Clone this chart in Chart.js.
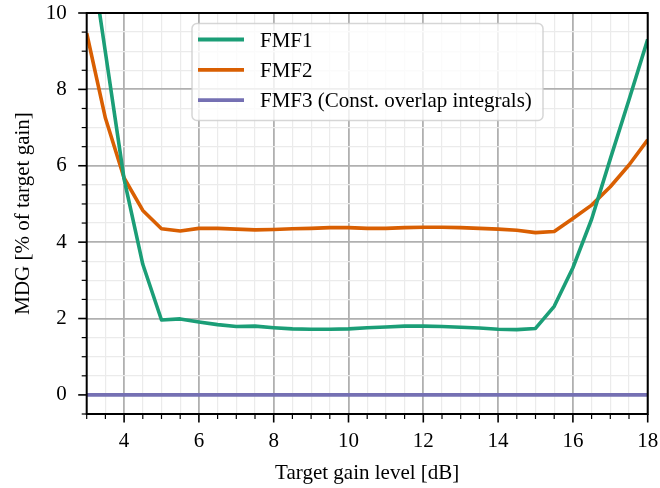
<!DOCTYPE html>
<html lang="en">
<head>
  <meta charset="UTF-8" />
  <title>MDG vs target gain</title>
  <script src="https://cdn.jsdelivr.net/npm/chart.js"></script>
  <style>
    html, body { margin: 0; padding: 0; background: #fff; }
    #wrap { width: 660px; height: 488px; }
  </style>
</head>
<body>
  <div id="wrap"><canvas id="mdgChart" width="660" height="488"></canvas></div>

  <script>
    // target gain levels [dB]
    const gainLevels = [3, 3.5, 4, 4.5, 5, 5.5, 6, 6.5, 7, 7.5, 8, 8.5, 9, 9.5, 10, 10.5,
                        11, 11.5, 12, 12.5, 13, 13.5, 14, 14.5, 15, 15.5, 16, 16.5, 17, 17.5, 18];
    // MDG [% of target gain]
    const fmf1 = [12.3, 8.97, 5.65, 3.42, 1.96, 1.99, 1.91, 1.84, 1.79, 1.80, 1.76, 1.73, 1.72, 1.72, 1.73, 1.76,
                  1.78, 1.80, 1.80, 1.79, 1.77, 1.75, 1.72, 1.71, 1.74, 2.32, 3.33, 4.60, 6.18, 7.73, 9.31];
    const fmf2 = [9.47, 7.25, 5.68, 4.83, 4.35, 4.29, 4.36, 4.36, 4.34, 4.32, 4.33, 4.35, 4.36, 4.38, 4.38, 4.36,
                  4.36, 4.38, 4.39, 4.39, 4.38, 4.36, 4.34, 4.31, 4.25, 4.28, 4.62, 4.97, 5.45, 6.02, 6.68];
    const fmf3 = gainLevels.map(() => 0);

    const seriesNames = ["FMF1", "FMF2", "FMF3 (Const. overlap integrals)"];
    const seriesColors = ["#1b9e77", "#d95f02", "#7570b3"];
    const xMajor = [4, 6, 8, 10, 12, 14, 16, 18];
    const yMajor = [0, 2, 4, 6, 8, 10];

    const FONT = "'Liberation Serif', 'Times New Roman', serif";
    const FSIZE = 21;

    const pts = ys => gainLevels.map((x, i) => ({ x: x, y: ys[i] }));
    const isMajor = (v, list) => list.some(m => Math.abs(m - v) < 1e-6);

    const gridColor = list => ctx => isMajor(ctx.tick.value, list) ? "#b0b0b0" : "#ebebeb";
    const gridWidth = list => ctx => isMajor(ctx.tick.value, list) ? 1.8 : 1.2;

    // no extra room for overhanging tick labels, the plot box is fixed
    const noPad = s => { s.paddingTop = 0; s.paddingBottom = 0; s.paddingLeft = 0; s.paddingRight = 0; };

    // frame, tick marks and legend box, drawn like the original figure
    const decorPlugin = {
      id: "decor",
      afterDatasetsDraw(chart) {
        const { ctx, chartArea: a, scales } = chart;
        ctx.save();
        // tick marks (outside, left and bottom only)
        ctx.strokeStyle = "#000";
        scales.x.ticks.forEach(t => {
          const px = scales.x.getPixelForValue(t.value);
          const major = isMajor(t.value, xMajor);
          ctx.lineWidth = major ? 1.6 : 1.2;
          ctx.beginPath();
          ctx.moveTo(px, a.bottom);
          ctx.lineTo(px, a.bottom + (major ? 8.5 : 5));
          ctx.stroke();
        });
        scales.y.ticks.forEach(t => {
          const py = scales.y.getPixelForValue(t.value);
          const major = isMajor(t.value, yMajor);
          ctx.lineWidth = major ? 1.6 : 1.2;
          ctx.beginPath();
          ctx.moveTo(a.left, py);
          ctx.lineTo(a.left - (major ? 8.5 : 5), py);
          ctx.stroke();
        });
        // frame
        ctx.lineWidth = 2;
        ctx.strokeRect(a.left, a.top, a.right - a.left, a.bottom - a.top);

        // legend
        const bx = 192, by = 23.5, bw = 351, bh = 97;
        ctx.beginPath();
        ctx.roundRect(bx, by, bw, bh, 5);
        ctx.fillStyle = "rgba(255,255,255,0.8)";
        ctx.fill();
        ctx.strokeStyle = "rgba(204,204,204,0.8)";
        ctx.lineWidth = 1.5;
        ctx.stroke();
        ctx.font = FSIZE + "px " + FONT;
        ctx.textBaseline = "alphabetic";
        ctx.fillStyle = "#000";
        chart.data.datasets.forEach((ds, i) => {
          const ry = 39.5 + i * 30.3;
          ctx.strokeStyle = ds.borderColor;
          ctx.lineWidth = 3.8;
          ctx.beginPath();
          ctx.moveTo(198, ry);
          ctx.lineTo(244, ry);
          ctx.stroke();
          ctx.fillText(ds.label, 260, ry + 7.2);
        });
        ctx.restore();
      }
    };

    new Chart(document.getElementById("mdgChart").getContext("2d"), {
      type: "line",
      data: {
        datasets: [fmf1, fmf2, fmf3].map((ys, i) => ({
          label: seriesNames[i],
          data: pts(ys),
          borderColor: seriesColors[i],
          backgroundColor: seriesColors[i],
          borderWidth: 3.6,
          borderJoinStyle: "round",
          pointRadius: 0,
          tension: 0,
          fill: false
        }))
      },
      options: {
        responsive: false,
        animation: false,
        layout: { padding: { top: 13, right: 12.3, left: 0, bottom: 0 } },
        plugins: { legend: { display: false }, tooltip: { enabled: false } },
        scales: {
          x: {
            type: "linear",
            min: 3, max: 18,
            afterFit: s => { s.height = 74; noPad(s); },
            border: { display: false },
            grid: { color: gridColor(xMajor), lineWidth: gridWidth(xMajor), drawTicks: false },
            ticks: {
              stepSize: 0.5, autoSkip: false, maxRotation: 0, padding: 15,
              color: "#000", font: { family: FONT, size: FSIZE },
              callback: v => isMajor(v, xMajor) ? String(v) : ""
            },
            title: {
              display: true, text: "Target gain level [dB]", color: "#000",
              font: { family: FONT, size: FSIZE }, padding: { top: 0, bottom: 2 }
            }
          },
          y: {
            min: -0.5, max: 10,
            afterFit: s => { s.width = 86.7; noPad(s); },
            border: { display: false },
            grid: { color: gridColor(yMajor), lineWidth: gridWidth(yMajor), drawTicks: false },
            ticks: {
              stepSize: 0.5, autoSkip: false, maxTicksLimit: 100, padding: 20,
              color: "#000", font: { family: FONT, size: FSIZE },
              callback: v => isMajor(v, yMajor) ? String(v) : ""
            },
            title: {
              display: true, text: "MDG [% of target gain]", color: "#000",
              font: { family: FONT, size: FSIZE }, padding: { top: 11, bottom: 0 }
            }
          }
        }
      },
      plugins: [decorPlugin]
    });
  </script>
</body>
</html>
